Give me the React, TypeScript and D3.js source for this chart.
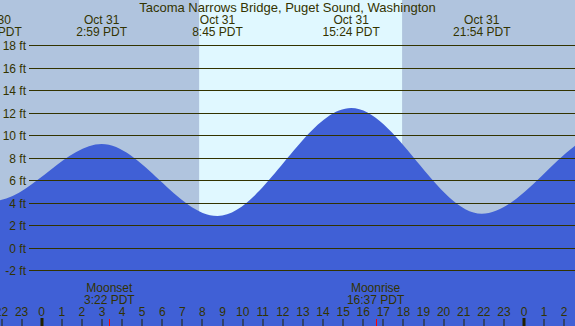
import React from 'react';
import * as d3 from 'd3';

// Tide extremes (day offset from Oct 31, clock time, height in ft)
const tideDays = ["Oct 30", "Oct 30", "Oct 31", "Oct 31", "Oct 31", "Oct 31", "Nov 1", "Nov 1"];
const tideDayOffset = [-1, -1, 0, 0, 0, 0, 1, 1];
const tideClock = ["15:05", "21:35", "2:59", "8:45", "15:24", "21:54", "4:12", "10:05"];
const tideHeights = [11.6, 4.15, 9.2, 2.8, 12.4, 3.0, 10.3, 3.4];

// Moon and sun events on Oct 31
const moonNames = ["Moonset", "Moonrise"];
const moonClock = ["3:22", "16:37"];
const sunrise = "7:50";
const sunset = "17:56";

const feetTicks = [-2, 0, 2, 4, 6, 8, 10, 12, 14, 16, 18];
const hourTicks = d3.range(-2, 27);

const title = "Tacoma Narrows Bridge, Puget Sound, Washington";

const W = 575;
const H = 326;
const FONT = "'Liberation Sans', Arial, sans-serif";
const INK = "#333300";

const toHours = (clock: string, day = 0) => {
	const [h, m] = clock.split(":").map(Number);
	return day * 24 + h + m / 60;
};

const App: React.FC = () => {
	const x = d3.scaleLinear().domain([0, 24]).range([41.7, 524]);
	const y = d3.scaleLinear().domain([-2, 18]).range([270, 45]);

	const tide: [number, number][] = tideClock.map((c, i) => [toHours(c, tideDayOffset[i]), tideHeights[i]]);

	const area = d3.area<[number, number]>()
		.x(d => x(d[0]))
		.y0(H)
		.y1(d => y(d[1]))
		.curve(d3.curveMonotoneX);

	const dayX0 = x(toHours(sunrise));
	const dayX1 = x(toHours(sunset));

	return (
		<svg width={W} height={H} style={{ position: 'absolute', left: 0, top: 0, display: 'block' }} fontFamily={FONT}>
			<rect x={0} y={0} width={W} height={H} fill="#B0C4DE" />
			<rect x={dayX0} y={0} width={dayX1 - dayX0} height={H} fill="#E0F8FF" />

			<path d={area(tide) || ""} fill="#4060D6" />

			{/* grid lines and feet labels */}
			{feetTicks.map(f => {
				const yy = Math.round(y(f)) + 0.5;
				return (
					<g key={f}>
						<line x1={29} x2={W} y1={yy} y2={yy} stroke={INK} strokeWidth={1} />
						<text x={26} y={yy + 4.5} textAnchor="end" fontSize={12} fill={INK}>{`${f} ft`}</text>
					</g>
				);
			})}

			<text x={W / 2} y={12} textAnchor="middle" fontSize={13} fill={INK}>{title}</text>

			{/* tide extreme labels */}
			{tide.map((d, i) => {
				const xx = x(d[0]);
				if (xx < -40 || xx > W + 10) return null;
				return (
					<g key={i}>
						<text x={xx} y={24} textAnchor="middle" fontSize={12} fill={INK}>{tideDays[i]}</text>
						<text x={xx} y={36} textAnchor="middle" fontSize={12} fill={INK}>{`${tideClock[i]} PDT`}</text>
					</g>
				);
			})}

			{/* moon labels */}
			{moonNames.map((n, i) => {
				const xx = x(toHours(moonClock[i]));
				return (
					<g key={n}>
						<text x={xx} y={291.5} textAnchor="middle" fontSize={12} fill={INK}>{n}</text>
						<text x={xx} y={304} textAnchor="middle" fontSize={12} fill={INK}>{`${moonClock[i]} PDT`}</text>
						<rect x={Math.round(xx)} y={319} width={1} height={7} fill="#FF0000" />
					</g>
				);
			})}

			{/* hour axis */}
			{hourTicks.map(h => {
				const xx = x(h);
				const label = ((h % 24) + 24) % 24;
				const midnight = label === 0;
				return (
					<g key={h}>
						<text x={xx} y={316} textAnchor="middle" fontSize={12} fill={INK}>{label}</text>
						{midnight
							? <rect x={Math.round(xx) - 1.5} y={318} width={3} height={8} fill="#222200" />
							: <rect x={Math.round(xx) - 0.5} y={319} width={1} height={7} fill="#222200" />}
					</g>
				);
			})}
		</svg>
	);
};

export default App;
